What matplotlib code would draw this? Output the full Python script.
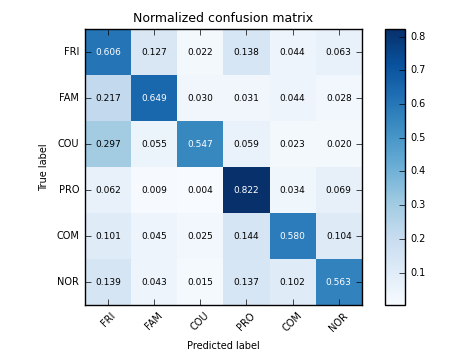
import matplotlib
matplotlib.use("Agg")
import matplotlib.pyplot as plt
import numpy as np

plt.style.use('classic')
plt.rcParams['figure.facecolor'] = 'white'
plt.rcParams['savefig.facecolor'] = 'white'

classes = ["FRI", "FAM", "COU", "PRO", "COM", "NOR"]
row_fri = [0.606, 0.127, 0.022, 0.138, 0.044, 0.063]
row_fam = [0.217, 0.649, 0.030, 0.031, 0.044, 0.028]
row_cou = [0.297, 0.055, 0.547, 0.059, 0.023, 0.020]
row_pro = [0.062, 0.009, 0.004, 0.822, 0.034, 0.069]
row_com = [0.101, 0.045, 0.025, 0.144, 0.580, 0.104]
row_nor = [0.139, 0.043, 0.015, 0.137, 0.102, 0.563]
cm = np.array([row_fri, row_fam, row_cou, row_pro, row_com, row_nor])

fig = plt.figure(figsize=(4.54, 3.51), dpi=100)
ax = fig.add_axes([0.187, 0.131, 0.610, 0.786])
cax = fig.add_axes([0.848, 0.131, 0.044, 0.786])

im = ax.imshow(cm, interpolation='nearest', cmap=plt.cm.Blues, aspect='auto')
ax.set_title("Normalized confusion matrix", fontsize=9)
cb = fig.colorbar(im, cax=cax)
cb.set_ticks([0.1, 0.2, 0.3, 0.4, 0.5, 0.6, 0.7, 0.8])
cb.ax.tick_params(labelsize=7)

ticks = np.arange(len(classes))
ax.set_xticks(ticks)
ax.set_xticklabels(classes, rotation=45, fontsize=7)
ax.set_yticks(ticks)
ax.set_yticklabels(classes, fontsize=7)
ax.set_xlim(-0.5, 5.5)
ax.set_ylim(5.5, -0.5)

thresh = cm.max() / 2.0
for i in range(cm.shape[0]):
    for j in range(cm.shape[1]):
        ax.text(j, i, "%.3f" % cm[i, j], ha="center", va="center", fontsize=6.5,
                color="white" if cm[i, j] > thresh else "black")

ax.set_ylabel("True label", fontsize=7)
ax.set_xlabel("Predicted label", fontsize=7)

fig.savefig("out.png", dpi=100)
